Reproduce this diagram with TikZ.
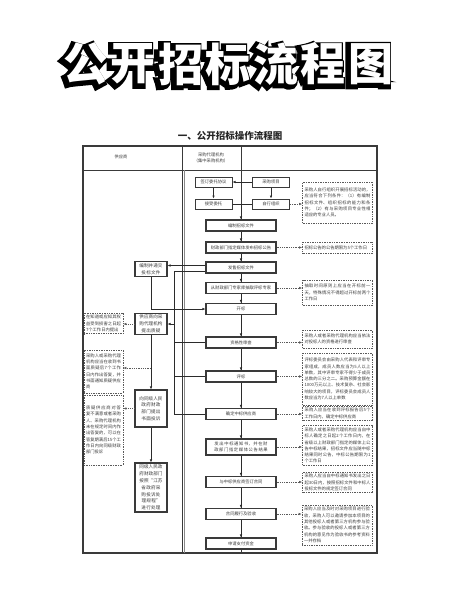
\documentclass[tikz,border=0pt]{standalone}
\usepackage{fontspec}
\setmainfont{Noto Sans CJK SC}
\newfontfamily\titlefat{Noto Sans CJK SC}[BoldFeatures={FakeBold=14}]
\XeTeXlinebreaklocale "zh"
\XeTeXlinebreakskip = 0pt plus 1pt
\usepackage{xcolor}
\usepackage{tikz}
\usetikzlibrary{arrows.meta}
\definecolor{framegray}{HTML}{3A3A3A}
\definecolor{linegray}{HTML}{2B2B2B}
\definecolor{notegray}{HTML}{5A5A5A}
\definecolor{textgray}{HTML}{3C3C3C}
\newcommand{\tinycn}{\fontsize{4.3pt}{6.3pt}\selectfont}
\newcommand{\supcn}{\fontsize{4.6pt}{6.8pt}\selectfont}
\tikzset{every node/.append style={font=\tinycn,text=textgray}}
\tikzset{
  smallbox/.style={draw=framegray,line width=1pt,fill=white,minimum width=37pt,minimum height=10pt,inner sep=1pt},
  flowbox/.style={draw=framegray,line width=1.1pt,fill=white,minimum width=70pt,minimum height=11pt,inner sep=1pt},
  supbox/.style={draw=framegray,line width=1.1pt,fill=white,font=\supcn,text width=24pt,align=center,inner xsep=4pt,inner ysep=2pt},
  notebox/.style={draw=notegray,densely dotted,line width=0.7pt,fill=white,text width=66pt,align=justify,inner sep=2pt},
  leftnote/.style={notebox,text width=35pt},
  flow/.style={linegray,line width=0.7pt},
  dotarrow/.style={notegray,densely dotted,line width=0.8pt,->}
}

\begin{document}
\begin{tikzpicture}[x=1pt,y=-1pt,>={Latex[length=3pt,width=2.6pt]}]
  \useasboundingbox (0,0) rectangle (459,600);
  % title: fat black copy behind each white glyph
  \foreach \c [count=\i] in {公,开,招,标,流,程,图} {
    \node[font=\titlefat\bfseries\fontsize{45pt}{45pt}\selectfont,text=black,inner sep=0pt] (tb\i) at ({228+(\i-4)*47.5-2.5},65.6) {\c};
    \node[font=\bfseries\fontsize{45pt}{45pt}\selectfont,text=white,inner sep=0pt] (t\i) at ({228+(\i-4)*47.5},64) {\c};
  }
  \node[font=\bfseries\fontsize{9.5pt}{9.5pt}\selectfont,text=black!85] (subtitle) at (230,136) {一、公开招标操作流程图};

  % frame and columns
  \draw[framegray,line width=1.2pt] (83,146) rectangle (377,553);
  \draw[framegray,line width=0.8pt] (83,170) -- (377,170);
  \draw[framegray,line width=0.7pt] (182.5,146) -- (182.5,553);
  \draw[framegray!60,line width=0.5pt] (184.5,170) -- (184.5,553);
  \draw[framegray,line width=0.7pt] (241,146) -- (241,553);
  \node (hsup) at (121,157) {供应商};
  \node[align=center] (hagent) at (211,158) {采购代理机构\\（集中采购机构）};

  % agency column
  \node[smallbox] (weituo) at (213.5,182) {签订委托协议};
  \node[smallbox] (xiangmu) at (271,182) {采购项目};
  \node[smallbox] (jieshou) at (213.5,204) {接受委托};
  \node[smallbox] (zixing) at (271,204) {自行组织};
  \coordinate (hebing) at (241,204);
  \node[flowbox] (bianzhi) at (241,225.5) {编制招标文件};
  \node[flowbox] (gonggao) at (241,247.5) {财政部门指定媒体发布招标公告};
  \node[flowbox] (fashou) at (241,267.5) {发售招标文件};
  \node[flowbox] (zhuanjia) at (241,288) {从财政部门专家库抽取评标专家};
  \node[flowbox] (kaibiao) at (241,309) {开标};
  \node[flowbox] (zige) at (241,342.5) {资格性审查};
  \node[flowbox] (pingbiao) at (241,376.5) {评标};
  \node[flowbox] (queding) at (241,414) {确定中标供应商};
  \node[flowbox,minimum height=16pt,text width=64pt,align=center] (tongzhi) at (241,447) {发出中标通知书，并在财政部门指定媒体公告结果};
  \node[flowbox] (hetong) at (241,482) {与中标供应商签订合同};
  \node[flowbox] (yanshou) at (241,514) {合同履行及验收};
  \node[flowbox] (zhifu) at (241,543.5) {申请支付资金};

  % notes, right
  \node[notebox,minimum height=41pt] (n1) at (337.5,202.5) {采购人自行组织开展招标活动的，应当符合下列条件：（1）有编制招标文件、组织招标的能力和条件；（2）有与采购项目专业性相适应的专业人员。};
  \node[notebox,minimum height=11pt] (n2) at (337.5,247.5) {招标公告的公告期限为5个工作日};
  \node[notebox,minimum height=25pt] (n3) at (337.5,292.5) {抽取时间原则上应当在开标前一天，特殊情况不得超过开标前两个工作日};
  \node[notebox,minimum height=18pt] (n4) at (337.5,339) {采购人或者采购代理机构应当依法对投标人的资格进行审查};
  \node[notebox,minimum height=52pt] (n5) at (337.5,379) {评标委员会由采购人代表和评审专家组成，成员人数应当为5人以上单数，其中评审专家不得少于成员总数的三分之二。采购预算金额在1000万元以上、技术复杂、社会影响较大的项目，评标委员会成员人数应当为7人以上单数};
  \node[notebox,minimum height=14pt] (n6) at (337.5,413.5) {采购人应当在收到评标报告后5个工作日内，确定中标供应商};
  \node[notebox,minimum height=39pt] (n7) at (337.5,445.5) {采购人或者采购代理机构应当自中标人确定之日起2个工作日内，在省级以上财政部门指定的媒体上公告中标结果，招标文件应当随中标结果同时公告，中标公告期限为1个工作日};
  \node[notebox,minimum height=16pt] (n8) at (337.5,482.5) {采购人应当自中标通知书发出之日起30日内，按照招标文件和中标人投标文件的规定签订合同};
  \node[notebox,minimum height=40pt] (n9) at (337,525) {采购人应当及时对采购项目进行验收，采购人可以邀请参加本项目的其他投标人或者第三方机构参与验收。参与验收的投标人或者第三方机构的意见作为验收书的参考资料一并存档};

  % supplier column
  \node[supbox] (toubiao) at (151,269) {编制并递交投标文件};
  \node[supbox] (zhiyi) at (151,324) {供应商向采购代理机构提出质疑};
  \node[supbox,minimum height=37pt] (tousu) at (151,408.5) {向同级人民政府财政部门提出书面投诉};
  \node[supbox] (chuli) at (151,487.5) {同级人民政府财政部门按照“江苏省政府采购投诉处理规程”进行处理};
  \node[leftnote,minimum height=19pt] (ln1) at (103.5,323.5) {在知道或应知其权益受到损害之日起7个工作日内提出};
  \node[leftnote,minimum height=43pt] (ln2) at (103.5,371.5) {采购人或采购代理机构应当在收到书面质疑后7个工作日内作出答复，并书面通知质疑供应商};
  \node[leftnote,minimum height=70pt] (ln3) at (103.5,430) {质疑供应商对答复不满意或者采购人、采购代理机构未在规定时间内作出答复的，可以在答复期满后15个工作日内向同级财政部门投诉};

  % connectors
  \draw[flow,->] (xiangmu) -- (weituo);
  \draw[flow,->] (weituo) -- (jieshou);
  \draw[flow,->] (xiangmu) -- (zixing);
  \draw[flow] (jieshou) -- (zixing);
  \draw[flow,->] (hebing) -- (bianzhi);
  \foreach \a/\b in {bianzhi/gonggao,gonggao/fashou,fashou/zhuanjia,zhuanjia/kaibiao,kaibiao/zige,zige/pingbiao,pingbiao/queding,queding/tongzhi,tongzhi/hetong,hetong/yanshou,yanshou/zhifu}
    \draw[flow,->] (\a) -- (\b);
  \draw[dotarrow] (zixing) -- (zixing -| n1.west);
  \foreach \b/\n in {gonggao/n2,zhuanjia/n3,zige/n4,pingbiao/n5,queding/n6,tongzhi/n7,hetong/n8,yanshou/n9}
    \draw[dotarrow] (\b) -- (\b -| \n.west);

  % supplier links
  \coordinate (zhiyitop) at (174,271);
  \coordinate (zhiyibot) at (174,414);
  \coordinate (dafu) at (151,368);
  \draw[flow,->] ([yshift=2pt]fashou.west) -- ([yshift=2pt]fashou.west -| toubiao.east);
  \draw[flow,->] (toubiao.south) |- (kaibiao.west);
  \draw[flow] (fashou.west |- zhiyitop) -- (zhiyitop) -- (zhiyibot) -- (queding.west);
  \draw[flow] (zige.west) -- (zige.west -| zhiyitop);
  \draw[flow] (pingbiao.west) -- (pingbiao.west -| zhiyitop);
  \draw[flow,->] (zhiyi.east -| zhiyitop) -- (zhiyi.east);
  \draw[flow,->] (zhiyi) -- (tousu);
  \draw[flow,->] (tousu) -- (chuli);
  \draw[dotarrow] (zhiyi) -- (zhiyi -| ln1.east);
  \draw[dotarrow] (dafu) -- (dafu -| ln2.east);
  \draw[dotarrow] (tousu) -- (tousu -| ln3.east);
\end{tikzpicture}
\end{document}
